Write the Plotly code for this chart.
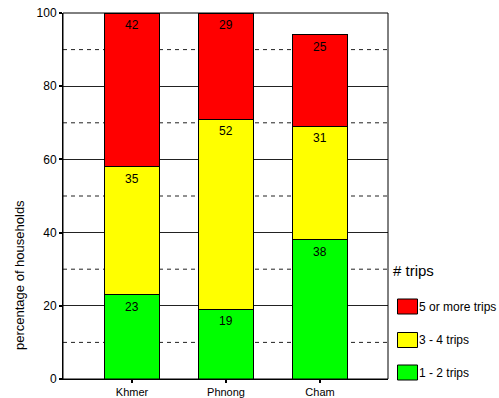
import plotly.graph_objects as go

# Share of households by number of trips, per ethnic group
groups = ["Khmer", "Phnong", "Cham"]
trips_1_2 = [23, 19, 38]
trips_3_4 = [35, 52, 31]
trips_5_plus = [42, 29, 25]

series = [
    ("1 - 2 trips", trips_1_2, "#00ff00"),
    ("3 - 4 trips", trips_3_4, "#ffff00"),
    ("5 or more trips", trips_5_plus, "#ff0000"),
]

y_ticks = [0, 20, 40, 60, 80, 100]
dashed_levels = [10, 30, 50, 70, 90]

FONT = "Liberation Sans, Arial, sans-serif"

# plot area in pixels
W, H = 499, 398
L, R, T, B = 63, 111, 13, 19
PW, PH = W - L - R, H - T - B


def px_x(x):
    return (x - L) / PW


def px_y(y):
    return (H - B - y) / PH


fig = go.Figure()
for name, vals, color in series:
    fig.add_trace(go.Bar(
        x=groups, y=vals, name=name, width=0.585,
        marker=dict(color=color, line=dict(color="#000000", width=1)),
        showlegend=False, hoverinfo="y",
    ))

# value labels near the top of each segment
annotations = []
base = [0] * len(groups)
for name, vals, color in series:
    for i, v in enumerate(vals):
        top = base[i] + v
        annotations.append(dict(
            x=groups[i], y=top, xref="x", yref="y", text=str(v),
            showarrow=False, yanchor="middle", yshift=-12,
            font=dict(family=FONT, size=12, color="#000000"),
        ))
        base[i] = top

# dashed intermediate grid lines
shapes = []
for lv in dashed_levels:
    shapes.append(dict(
        type="line", xref="paper", yref="y", x0=0, x1=1, y0=lv, y1=lv,
        line=dict(color="#222222", width=1, dash="4px,4px"), layer="below",
    ))
# plot frame
shapes.append(dict(type="rect", xref="paper", yref="paper", x0=0, x1=1, y0=0, y1=1,
                   line=dict(color="#000000", width=1), layer="above"))

# legend drawn by hand: title, swatches and labels
annotations.append(dict(
    x=px_x(391), y=px_y(270.5), xref="paper", yref="paper", text="# trips",
    showarrow=False, xanchor="left", yanchor="middle",
    font=dict(family=FONT, size=15, color="#000000"),
))
legend_rows = [(series[2], 299), (series[1], 332.5), (series[0], 365)]
for (name, vals, color), ytop in legend_rows:
    shapes.append(dict(
        type="rect", xref="paper", yref="paper",
        x0=px_x(397.5), x1=px_x(417.5), y0=px_y(ytop + 15), y1=px_y(ytop),
        fillcolor=color, line=dict(color="#000000", width=1), layer="above",
    ))
    annotations.append(dict(
        x=px_x(417), y=px_y(ytop + 7.5), xref="paper", yref="paper", text=name,
        showarrow=False, xanchor="left", yanchor="middle",
        font=dict(family=FONT, size=12, color="#000000"),
    ))

# y-axis title
annotations.append(dict(
    x=px_x(19), y=px_y(275), xref="paper", yref="paper",
    text="percentage of households", textangle=-90, showarrow=False,
    xanchor="center", yanchor="middle",
    font=dict(family=FONT, size=13, color="#000000"),
))

fig.update_layout(
    width=W, height=H,
    margin=dict(l=L, r=R, t=T, b=B, pad=0, autoexpand=False),
    barmode="stack",
    plot_bgcolor="#ffffff", paper_bgcolor="#ffffff",
    font=dict(family=FONT, size=11, color="#000000"),
    bargap=0.4,
    shapes=shapes, annotations=annotations,
    showlegend=False,
)
fig.update_xaxes(
    range=[-0.734, 2.723], showgrid=False, showline=True, automargin=False,
    linecolor="#000000", linewidth=1,
    ticks="outside", ticklen=3, tickwidth=2, tickcolor="#000000",
    tickfont=dict(family=FONT, size=11, color="#000000"),
)
fig.update_yaxes(
    range=[0, 100], tickvals=y_ticks, showgrid=True, automargin=False,
    gridcolor="#222222", gridwidth=1, zeroline=False,
    showline=True, linecolor="#000000", linewidth=1,
    ticks="outside", ticklen=3, tickwidth=2, tickcolor="#000000",
    tickfont=dict(family=FONT, size=12, color="#000000"),
)

fig.write_html("out.html")
